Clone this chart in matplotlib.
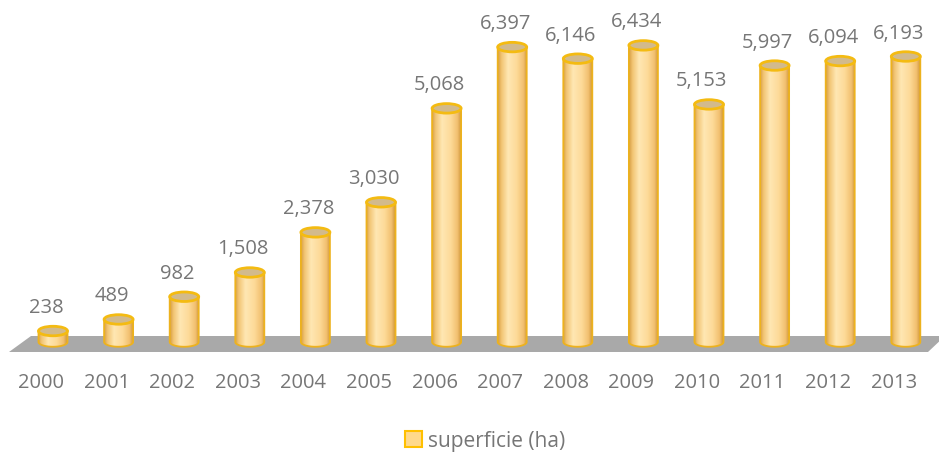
import numpy as np
import matplotlib
matplotlib.use("Agg")
import matplotlib.pyplot as plt
from matplotlib.patches import Polygon, Ellipse, PathPatch, Rectangle
from matplotlib.path import Path
from matplotlib.colors import LinearSegmentedColormap

years = ["2000", "2001", "2002", "2003", "2004", "2005", "2006",
         "2007", "2008", "2009", "2010", "2011", "2012", "2013"]
superficie = [238, 489, 982, 1508, 2378, 3030, 5068,
              6397, 6146, 6434, 5153, 5997, 6094, 6193]
series_name = "superficie (ha)"

W, H = 939, 453
fig = plt.figure(figsize=(W / 100, H / 100), dpi=100)
ax = fig.add_axes([0, 0, 1, 1])
ax.set_axis_off()

# layout (pixel-based calibration)
x0_px, dx_px = 53.0, 65.6        # centre of first bar, spacing
base_px, k_px = 342.0, 0.0461    # baseline y (from top), px per unit
ax.set_xlim(-x0_px / dx_px, (W - x0_px) / dx_px)
ax.set_ylim((base_px - H) / k_px, base_px / k_px)

def ypx(p):  # vertical pixel offset -> data units
    return p / k_px

def xpx(p):
    return p / dx_px

font = ["Open Sans", "DejaVu Sans"]
grey = "#767676"

# floor
floor = Polygon([(xpx(31 - x0_px), ypx(base_px - 336)),
                 (xpx(945 - x0_px), ypx(base_px - 336)),
                 (xpx(928 - x0_px), ypx(base_px - 352)),
                 (xpx(9 - x0_px), ypx(base_px - 352))],
                closed=True, facecolor="#A9A9A9", edgecolor="none", zorder=1)
ax.add_patch(floor)

cmap = LinearSegmentedColormap.from_list(
    "gold", [(0.0, "#D59E45"), (0.12, "#F2C472"), (0.35, "#FFE7B3"),
             (0.65, "#FDDA98"), (0.88, "#F2C070"), (1.0, "#D29A40")])
grad = np.linspace(0, 1, 256).reshape(1, -1)

bw = xpx(29)          # bar width in x units
eh = ypx(9.5)         # ellipse full height in y units
t = np.linspace(np.pi, 2 * np.pi, 40)

for i, v in enumerate(superficie):
    xc = i
    xl, xr = xc - bw / 2, xc + bw / 2
    arc = np.column_stack([xc + bw / 2 * np.cos(t), eh / 2 * np.sin(t)])
    verts = [(xl, v)] + [tuple(p) for p in arc] + [(xr, v), (xl, v)]
    codes = [Path.MOVETO] + [Path.LINETO] * (len(verts) - 2) + [Path.CLOSEPOLY]
    path = Path(verts, codes)
    clip = PathPatch(path, facecolor="none", edgecolor="none", transform=ax.transData)
    ax.add_patch(clip)
    im = ax.imshow(grad, cmap=cmap, aspect="auto",
                   extent=[xl, xr, -eh / 2, v], zorder=2, interpolation="bilinear")
    im.set_clip_path(clip)
    outline = PathPatch(path, facecolor="none", edgecolor="#EDB21E", lw=1.3, zorder=3)
    ax.add_patch(outline)
    top = Ellipse((xc, v), bw, eh, facecolor="#D2BA8C", edgecolor="#F4BB12",
                  lw=2.0, zorder=4)
    ax.add_patch(top)
    ax.text(xc - xpx(7), v + ypx(23), f"{v:,}", ha="center", va="center",
            fontsize=14.5, color=grey, family=font, zorder=5)
    ax.text(xc - xpx(12), ypx(base_px - 383), years[i], ha="center", va="center",
            fontsize=14.5, color=grey, family=font, zorder=5)

handle = Rectangle((0, 0), 1, 1, facecolor="#FFD98C", edgecolor="#FFC000", lw=1.5)
leg = fig.legend([handle], [series_name], loc="center",
                 bbox_to_anchor=(485 / W, 1 - 441 / H), frameon=False,
                 handlelength=0.8, handleheight=0.8, handletextpad=0.3,
                 prop={"family": font, "size": 15})
for txt in leg.get_texts():
    txt.set_color(grey)

fig.savefig("out.png", dpi=100)
